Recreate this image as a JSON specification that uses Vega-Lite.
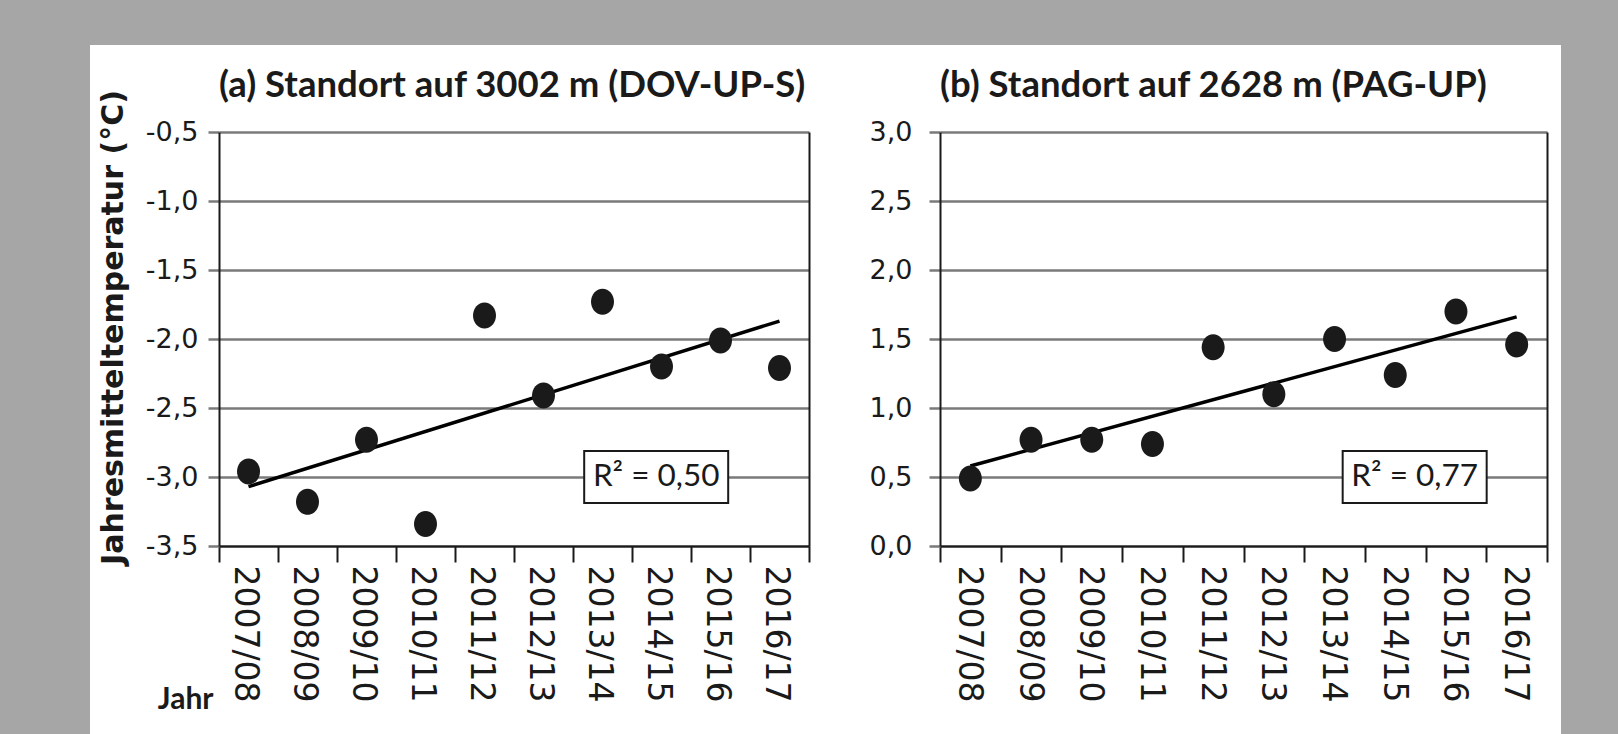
{
  "$schema": "https://vega.github.io/schema/vega-lite/v6.json",
  "background": "white",
  "padding": 0,
  "autosize": {"type": "pad"},
  "spacing": 0,
  "datasets": {
    "a_pts": [
      {"jahr": "2007/08", "temp": -2.96},
      {"jahr": "2008/09", "temp": -3.18},
      {"jahr": "2009/10", "temp": -2.73},
      {"jahr": "2010/11", "temp": -3.34},
      {"jahr": "2011/12", "temp": -1.83},
      {"jahr": "2012/13", "temp": -2.41},
      {"jahr": "2013/14", "temp": -1.73},
      {"jahr": "2014/15", "temp": -2.20},
      {"jahr": "2015/16", "temp": -2.01},
      {"jahr": "2016/17", "temp": -2.21}
    ],
    "a_trend": [
      {"jahr": "2007/08", "trend": -3.07},
      {"jahr": "2016/17", "trend": -1.87}
    ],
    "a_r2": [{"jahr": "2014/15", "y": -3.0, "label": "R² = 0,50"}],
    "b_pts": [
      {"jahr": "2007/08", "temp": 0.49},
      {"jahr": "2008/09", "temp": 0.77},
      {"jahr": "2009/10", "temp": 0.77},
      {"jahr": "2010/11", "temp": 0.74},
      {"jahr": "2011/12", "temp": 1.44},
      {"jahr": "2012/13", "temp": 1.10},
      {"jahr": "2013/14", "temp": 1.50},
      {"jahr": "2014/15", "temp": 1.24},
      {"jahr": "2015/16", "temp": 1.70},
      {"jahr": "2016/17", "temp": 1.46}
    ],
    "b_trend": [
      {"jahr": "2007/08", "trend": 0.58},
      {"jahr": "2016/17", "trend": 1.66}
    ],
    "b_r2": [{"jahr": "2014/15", "y": 0.5, "label": "R² = 0,77"}]
  },
  "hconcat": [
    {"width": 90, "height": 734, "view": {"fill": "#a6a6a6", "stroke": null}, "data": {"values": []}, "mark": "rect", "encoding": {}},
    {
      "spacing": 22,
      "vconcat": [
        {"width": 1471, "height": 45, "view": {"fill": "#a6a6a6", "stroke": null}, "data": {"values": []}, "mark": "rect", "encoding": {}},
        {
          "spacing": 0,
          "hconcat": [
            {"width": 8, "height": 1, "view": {"stroke": null}, "data": {"values": []}, "mark": "rect", "encoding": {}},
            {
              "width": 590,
              "height": 414,
              "view": {"stroke": null},
              "title": {"text": "(a) Standort auf 3002 m (DOV-UP-S)", "anchor": "start", "frame": "group", "font": "Lato", "fontWeight": "bold", "fontSize": 36.5, "color": "#1a1a1a", "baseline": "alphabetic", "offset": -44},
              "resolve": {"axis": {"x": "independent", "y": "independent"}},
              "layer": [
                {
                  "data": {"name": "a_trend"},
                  "mark": {"type": "line", "color": "black", "strokeWidth": 3.5},
                  "encoding": {
                    "x": {"field": "jahr", "type": "nominal",
                      "scale": {"type": "band", "paddingInner": 0, "paddingOuter": 0, "domain": ["2007/08","2008/09","2009/10","2010/11","2011/12","2012/13","2013/14","2014/15","2015/16","2016/17"]},
                      "axis": {"title": "Jahr", "titleFont": "Lato", "titleFontWeight": "bold", "titleFontSize": 30, "titleColor": "#1a1a1a", "titleAnchor": "start", "titleAlign": "right", "titleBaseline": "alphabetic", "titleX": -6, "titleY": 162,
                        "labelAngle": 90, "labelFont": "DejaVu Sans", "labelFontSize": 33, "labelColor": "#1a1a1a", "labelPadding": 3, "labelOffset": -4, "labelOverlap": false, "labelLimit": 400,
                        "tickBand": "extent", "tickSize": 16, "tickWidth": 2, "tickColor": "#1a1a1a", "domainColor": "#1a1a1a", "domainWidth": 2, "grid": false}},
                    "y": {"field": "trend", "type": "quantitative",
                      "scale": {"domain": [-3.5, -0.5], "nice": false, "zero": false},
                      "axis": {"title": "Jahresmitteltemperatur (°C)", "titleFont": "DejaVu Sans", "titleFontWeight": "bold", "titleFontSize": 30, "titleColor": "#1a1a1a", "titlePadding": 17, "titleY": 195,
                        "values": [-3.5, -3, -2.5, -2, -1.5, -1, -0.5],
                        "labelExpr": "replace(replace(format(datum.value, '.1f'), '.', ','), '\u2212', '-')",
                        "labelFont": "DejaVu Sans", "labelFontSize": 27, "labelColor": "#1a1a1a", "labelPadding": 10, "labelFlush": false,
                        "tickSize": 11, "tickWidth": 2.5, "tickColor": "#7a7a7a", "domainColor": "#1a1a1a", "domainWidth": 2,
                        "grid": true, "gridColor": "#7a7a7a", "gridWidth": 2.5}}
                  }
                },
                {
                  "data": {"name": "a_pts"},
                  "mark": {"type": "point", "filled": true, "color": "#1a1a1a", "opacity": 1, "size": 676, "shape": "M-0.885,0A0.885,1,0,1,0,0.885,0A0.885,1,0,1,0,-0.885,0Z"},
                  "encoding": {
                    "x": {"field": "jahr", "type": "nominal", "scale": {"type": "band", "paddingInner": 0, "paddingOuter": 0}, "axis": null},
                    "y": {"field": "temp", "type": "quantitative", "axis": null}
                  }
                },
                {
                  "data": {"name": "a_r2"},
                  "mark": {"type": "point", "filled": true, "fill": "white", "stroke": "#1a1a1a", "strokeWidth": 2, "opacity": 1, "size": 20736, "shape": "M-1,-0.361H1V0.361H-1Z"},
                  "encoding": {
                    "x": {"field": "jahr", "type": "nominal", "bandPosition": 0.41, "scale": {"type": "band", "paddingInner": 0, "paddingOuter": 0}, "axis": null},
                    "y": {"field": "y", "type": "quantitative",
                      "axis": {"orient": "right", "labels": false, "ticks": false, "grid": false, "title": null, "domainColor": "#1a1a1a", "domainWidth": 2}}
                  }
                },
                {
                  "data": {"name": "a_r2"},
                  "mark": {"type": "text", "font": "Lato", "fontSize": 31.5, "color": "#1a1a1a", "align": "center", "baseline": "middle"},
                  "encoding": {
                    "x": {"field": "jahr", "type": "nominal", "bandPosition": 0.41, "scale": {"type": "band", "paddingInner": 0, "paddingOuter": 0}, "axis": null},
                    "y": {"field": "y", "type": "quantitative", "axis": null},
                    "text": {"field": "label"}
                  }
                }
              ]
            },
            {"width": 59, "height": 1, "view": {"stroke": null}, "data": {"values": []}, "mark": "rect", "encoding": {}},
            {
              "width": 607,
              "height": 414,
              "view": {"stroke": null},
              "title": {"text": "(b) Standort auf 2628 m (PAG-UP)", "anchor": "start", "frame": "group", "font": "Lato", "fontWeight": "bold", "fontSize": 36.5, "color": "#1a1a1a", "baseline": "alphabetic", "offset": -15},
              "resolve": {"axis": {"x": "independent", "y": "independent"}},
              "layer": [
                {
                  "data": {"name": "b_trend"},
                  "mark": {"type": "line", "color": "black", "strokeWidth": 3.5},
                  "encoding": {
                    "x": {"field": "jahr", "type": "nominal",
                      "scale": {"type": "band", "paddingInner": 0, "paddingOuter": 0, "domain": ["2007/08","2008/09","2009/10","2010/11","2011/12","2012/13","2013/14","2014/15","2015/16","2016/17"]},
                      "axis": {"title": null,
                        "labelAngle": 90, "labelFont": "DejaVu Sans", "labelFontSize": 33, "labelColor": "#1a1a1a", "labelPadding": 3, "labelOffset": -2, "labelOverlap": false, "labelLimit": 400,
                        "tickBand": "extent", "tickSize": 16, "tickWidth": 2, "tickColor": "#1a1a1a", "domainColor": "#1a1a1a", "domainWidth": 2, "grid": false}},
                    "y": {"field": "trend", "type": "quantitative",
                      "scale": {"domain": [0, 3], "nice": false, "zero": false},
                      "axis": {"title": null,
                        "values": [0, 0.5, 1, 1.5, 2, 2.5, 3],
                        "labelExpr": "replace(format(datum.value, '.1f'), '.', ',')",
                        "labelFont": "DejaVu Sans", "labelFontSize": 27, "labelColor": "#1a1a1a", "labelPadding": 17, "labelFlush": false,
                        "tickSize": 11, "tickWidth": 2.5, "tickColor": "#7a7a7a", "domainColor": "#1a1a1a", "domainWidth": 2,
                        "grid": true, "gridColor": "#7a7a7a", "gridWidth": 2.5}}
                  }
                },
                {
                  "data": {"name": "b_pts"},
                  "mark": {"type": "point", "filled": true, "color": "#1a1a1a", "opacity": 1, "size": 676, "shape": "M-0.885,0A0.885,1,0,1,0,0.885,0A0.885,1,0,1,0,-0.885,0Z"},
                  "encoding": {
                    "x": {"field": "jahr", "type": "nominal", "scale": {"type": "band", "paddingInner": 0, "paddingOuter": 0}, "axis": null},
                    "y": {"field": "temp", "type": "quantitative", "axis": null}
                  }
                },
                {
                  "data": {"name": "b_r2"},
                  "mark": {"type": "point", "filled": true, "fill": "white", "stroke": "#1a1a1a", "strokeWidth": 2, "opacity": 1, "size": 20736, "shape": "M-1,-0.361H1V0.361H-1Z"},
                  "encoding": {
                    "x": {"field": "jahr", "type": "nominal", "bandPosition": 0.82, "scale": {"type": "band", "paddingInner": 0, "paddingOuter": 0}, "axis": null},
                    "y": {"field": "y", "type": "quantitative",
                      "axis": {"orient": "right", "labels": false, "ticks": false, "grid": false, "title": null, "domainColor": "#1a1a1a", "domainWidth": 2}}
                  }
                },
                {
                  "data": {"name": "b_r2"},
                  "mark": {"type": "text", "font": "Lato", "fontSize": 31.5, "color": "#1a1a1a", "align": "center", "baseline": "middle"},
                  "encoding": {
                    "x": {"field": "jahr", "type": "nominal", "bandPosition": 0.82, "scale": {"type": "band", "paddingInner": 0, "paddingOuter": 0}, "axis": null},
                    "y": {"field": "y", "type": "quantitative", "axis": null},
                    "text": {"field": "label"}
                  }
                }
              ]
            }
          ]
        }
      ]
    },
    {"width": 57, "height": 734, "view": {"fill": "#a6a6a6", "stroke": null}, "data": {"values": []}, "mark": "rect", "encoding": {}}
  ],
  "config": {
    "view": {"stroke": null},
    "font": "DejaVu Sans"
  }
}
